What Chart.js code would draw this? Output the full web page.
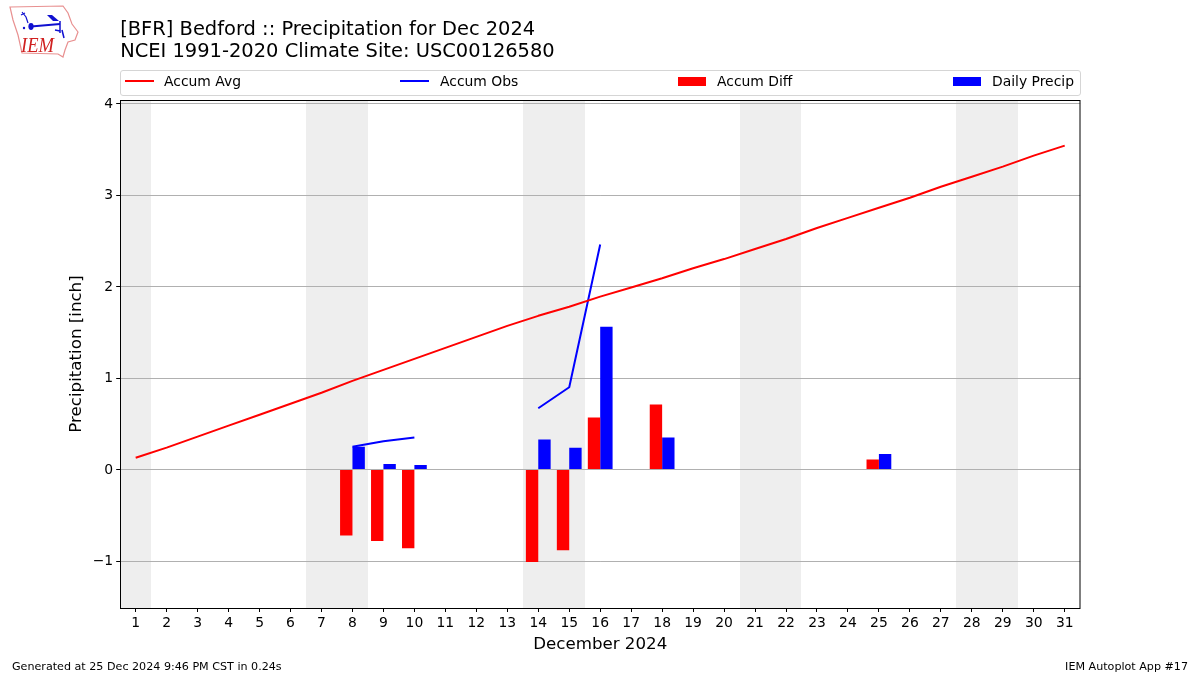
<!DOCTYPE html>
<html>
<head>
<meta charset="utf-8">
<title>Bedford precipitation</title>
<script src="https://cdn.jsdelivr.net/npm/chart.js@4"></script>
<style>
  html, body { margin: 0; padding: 0; background: #fff; }
  body { width: 1200px; height: 675px; position: relative; overflow: hidden; font-family: "DejaVu Sans", sans-serif; color: #000; }
  canvas { position: absolute; left: 0; top: 0; }
  #logo { position: absolute; left: 0; top: 0; }
  #legend { position: absolute; left: 120px; top: 70px; width: 959px; height: 24px; border: 1px solid #d5d5d5; border-radius: 3px; background: #fff; }
  .item { position: absolute; top: 0; height: 24px; line-height: 21px; font-size: 13.9px; white-space: nowrap; }
  .line { position: absolute; top: 9px; width: 29px; height: 2px; }
  .box { position: absolute; top: 6px; width: 28px; height: 9px; }
  .item span { position: absolute; top: 0; }
  .foot { position: absolute; top: 660px; font-size: 11.13px; line-height: 14px; }
</style>
</head>
<body>
<canvas id="chart" width="1200" height="675"></canvas>
<svg id="logo" width="90" height="65" viewBox="0 0 90 65">
  <path d="M10 7 L63 6 L68 13 L72 24 L78 32 L75 40 L68 42 L65 50 L63 57 L58 54 L22 53 L18 35 L13 20 Z" fill="none" stroke="#e89090" stroke-width="1.2"/>
  <path d="M31 26.5 L60 24" stroke="#1010d0" stroke-width="2" fill="none"/>
  <ellipse cx="31" cy="26.5" rx="2.6" ry="3.4" fill="#1010d0"/>
  <path d="M47 15 L52 15 L59 21 L53 21 Z" fill="#1010d0"/>
  <path d="M22 12 L26 17 L28 23 M21 15 L25 13" stroke="#1010d0" stroke-width="1.2" fill="none"/>
  <path d="M60 21 L60 33 M55 30 L60 31 M62 30 L64 38" stroke="#1010d0" stroke-width="1.5" fill="none"/>
  <circle cx="24" cy="28" r="1.2" fill="#1010d0"/>
  <text x="21" y="52" font-family="Liberation Serif" font-style="italic" font-size="21" textLength="33" lengthAdjust="spacingAndGlyphs" fill="#d02020">IEM</text>
</svg>
<div id="legend"></div>
<div class="foot" style="left:12px">Generated at 25 Dec 2024 9:46 PM CST in 0.24s</div>
<div class="foot" style="right:12px">IEM Autoplot App #17</div>
<script>
const days = [
  "1", "2", "3", "4", "5", "6", "7", "8", "9", "10", "11", "12", "13", "14", "15", "16",
  "17", "18", "19", "20", "21", "22", "23", "24", "25", "26", "27", "28", "29", "30", "31",
];
const weekendDays = [1, 7, 8, 14, 15, 21, 22, 28, 29];
const accumAvg = [
  0.13, 0.24, 0.36, 0.48, 0.6, 0.72, 0.84, 0.97, 1.09, 1.21, 1.33, 1.45, 1.57, 1.68, 1.78, 1.89,
  1.99, 2.09, 2.2, 2.3, 2.41, 2.52, 2.64, 2.75, 2.86, 2.97, 3.09, 3.2, 3.31, 3.43, 3.54,
];
const accumObs = [
  null, null, null, null, null, null, null, 0.25, 0.31, 0.35, null, null, null, 0.67, 0.9, 2.46,
  null, null, null, null, null, null, null, null, null, null, null, null, null, null, null,
];
const accumDiff = [
  null, null, null, null, null, null, null, -0.72, -0.78, -0.86, null, null, null, -1.01, -0.88, 0.57,
  null, 0.71, null, null, null, null, null, null, 0.11, null, null, null, null, null, null,
];
const dailyPrecip = [
  null, null, null, null, null, null, null, 0.25, 0.06, 0.05, null, null, null, 0.33, 0.24, 1.56,
  null, 0.35, null, null, null, null, null, null, 0.17, null, null, null, null, null, null,
];

Chart.defaults.font.family = '"DejaVu Sans", sans-serif';
Chart.defaults.color = "#000";

// grey bands behind the weekends
const weekendBands = {
  id: "weekendBands",
  beforeDraw(chart) {
    const { ctx, chartArea, scales } = chart;
    const band = scales.x.width / days.length;
    ctx.save();
    ctx.fillStyle = "#eeeeee";
    weekendDays.forEach((d) => {
      const px = scales.x.getPixelForValue(d - 1);
      const left = Math.round(px - band / 2);
      const right = Math.round(px + band / 2);
      ctx.fillRect(left, chartArea.top, right - left, chartArea.bottom - chartArea.top);
    });
    ctx.restore();
  },
};

const frame = {
  id: "frame",
  afterDraw(chart) {
    const { ctx, chartArea } = chart;
    ctx.save();
    ctx.strokeStyle = "#000";
    ctx.lineWidth = 1;
    ctx.strokeRect(120.5, chartArea.top + 0.5, 959.5, chartArea.bottom - chartArea.top);
    ctx.restore();
  },
};

const chart = new Chart(document.getElementById("chart"), {
  type: "bar",
  data: {
    labels: days,
    datasets: [
      { type: "line", label: "Accum Avg", data: accumAvg, borderColor: "#ff0000", backgroundColor: "#ff0000", borderWidth: 2, pointRadius: 0, borderJoinStyle: "round" },
      { type: "line", label: "Accum Obs", data: accumObs, borderColor: "#0000ff", backgroundColor: "#0000ff", borderWidth: 2, pointRadius: 0, spanGaps: false, borderJoinStyle: "round" },
      { label: "Accum Diff", data: accumDiff, backgroundColor: "#ff0000", categoryPercentage: 0.8, barPercentage: 1 },
      { label: "Daily Precip", data: dailyPrecip, backgroundColor: "#0000ff", categoryPercentage: 0.8, barPercentage: 1 },
    ],
  },
  options: {
    responsive: false,
    animation: false,
    layout: { padding: { left: 60, right: 119.8, top: 0, bottom: 20 } },
    plugins: {
      legend: { display: false },
      tooltip: { enabled: false },
      title: {
        display: true,
        text: ["[BFR] Bedford :: Precipitation for Dec 2024", "NCEI 1991-2020 Climate Site: USC00126580"],
        align: "start",
        fullSize: false,
        font: { size: 19.44, weight: "normal", lineHeight: 22 / 19.44 },
        color: "#000",
        padding: { top: 19, bottom: 37 },
      },
    },
    scales: {
      x: {
        offset: true,
        grid: { offset: false, drawOnChartArea: false, drawTicks: true, tickColor: "#000", tickLength: 4 },
        border: { display: false },
        ticks: { font: { size: 13.9 }, color: "#000", maxRotation: 0, autoSkip: false, padding: 3 },
        title: { display: true, text: "December 2024", font: { size: 16.67 }, color: "#000", padding: { top: 0, bottom: 0 } },
        afterFit(scale) {
          scale.height = 47;
        },
      },
      y: {
        min: -1.512,
        max: 4.038,
        grid: { color: "#b0b0b0", lineWidth: 1, tickColor: "#000", tickLength: 4 },
        border: { display: false },
        ticks: {
          stepSize: 1,
          includeBounds: false,
          font: { size: 13.9 },
          color: "#000",
          padding: 3,
          labelOffset: 0.5,
          callback: (v) => String(v).replace("-", "\u2212"),
        },
        title: { display: true, text: "Precipitation [inch]", font: { size: 16.67 }, color: "#000", padding: { top: 7, bottom: 0 } },
        afterFit(scale) {
          scale.width = 60.2;
        },
      },
    },
  },
  plugins: [weekendBands, frame],
});

// legend strip, the four entries are spread over the whole width like the original
const legendSpots = [
  { mark: 4, text: 43 },
  { mark: 279, text: 319 },
  { mark: 557, text: 596 },
  { mark: 832, text: 871 },
];
const legendEl = document.getElementById("legend");
chart.data.datasets.forEach((ds, i) => {
  const item = document.createElement("div");
  item.className = "item";
  item.style.left = "0";
  const mark = document.createElement("div");
  mark.className = ds.type === "line" ? "line" : "box";
  mark.style.left = legendSpots[i].mark + "px";
  mark.style.background = ds.backgroundColor;
  const label = document.createElement("span");
  label.style.left = legendSpots[i].text + "px";
  label.textContent = ds.label;
  item.appendChild(mark);
  item.appendChild(label);
  legendEl.appendChild(item);
});
</script>
</body>
</html>
